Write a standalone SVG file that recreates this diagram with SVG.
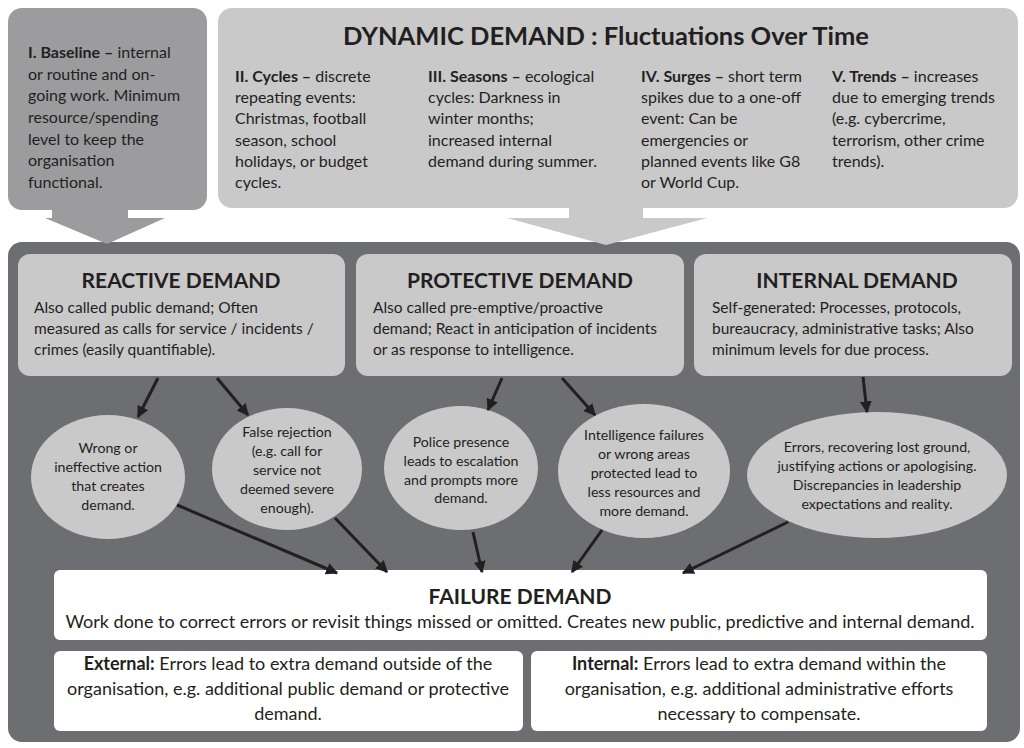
<svg xmlns="http://www.w3.org/2000/svg" width="1024" height="748" viewBox="0 0 1024 748">
<defs>
<style>
text{font-family:Lato,"Noto Sans","Liberation Sans",sans-serif;fill:#231f20;}
.b{font-size:15.5px;}
.tp{font-size:16px;}
.h{font-size:21px;font-weight:700;text-anchor:middle;}
.t{font-size:25.5px;font-weight:700;text-anchor:middle;}
.e{font-size:14.2px;text-anchor:middle;}
.f{font-size:18px;text-anchor:middle;}
.bd{font-weight:700;}
.light{fill:#c9c9ca;}
.mid{fill:#9c9c9e;}
.dark{fill:#6d6e71;}
.white{fill:#ffffff;}
.conn{stroke:#231f20;stroke-width:3;fill:none;marker-end:url(#ah);}
</style>
<marker id="ah" viewBox="0 0 10 10" refX="9" refY="5" markerWidth="4" markerHeight="4" orient="auto" markerUnits="strokeWidth">
<path d="M0,0 L10,5 L0,10 z" fill="#231f20"/>
</marker>
</defs>
<rect width="1024" height="748" fill="#ffffff"/>

<g id="panel">
<rect class="dark" x="8" y="242" width="1012" height="500" rx="14"/>
</g>

<g id="baseline">
<rect class="mid" x="8" y="8" width="199" height="202" rx="14"/>
<polygon class="mid" points="52,208 128,208 128,218 165,218 107,244 45,218 52,218"/>
<text class="tp" x="28" y="58"><tspan class="bd">I. Baseline –</tspan> internal</text>
<text class="tp" x="28" y="80">or routine and on-</text>
<text class="tp" x="28" y="101">going work. Minimum</text>
<text class="tp" x="28" y="123">resource/spending</text>
<text class="tp" x="28" y="145">level to keep the</text>
<text class="tp" x="28" y="166">organisation</text>
<text class="tp" x="28" y="188">functional.</text>
</g>

<g id="dynamic">
<rect class="light" x="218" y="8" width="800" height="200" rx="14"/>
<polygon class="light" points="569,206 643,206 643,218 707,218 606,245 507,218 569,218"/>
<text class="t" x="606" y="45">DYNAMIC DEMAND : Fluctuations Over Time</text>
<g id="cycles">
<text class="tp" x="235" y="82"><tspan class="bd">II. Cycles –</tspan> discrete</text>
<text class="tp" x="235" y="103">repeating events:</text>
<text class="tp" x="235" y="124">Christmas, football</text>
<text class="tp" x="235" y="146">season, school</text>
<text class="tp" x="235" y="167">holidays, or budget</text>
<text class="tp" x="235" y="188">cycles.</text>
</g>
<g id="seasons">
<text class="tp" x="428" y="82"><tspan class="bd">III. Seasons –</tspan> ecological</text>
<text class="tp" x="428" y="103">cycles: Darkness in</text>
<text class="tp" x="428" y="124">winter months;</text>
<text class="tp" x="428" y="146">increased internal</text>
<text class="tp" x="428" y="167">demand during summer.</text>
</g>
<g id="surges">
<text class="tp" x="641" y="82"><tspan class="bd">IV. Surges –</tspan> short term</text>
<text class="tp" x="641" y="103">spikes due to a one-off</text>
<text class="tp" x="641" y="124">event: Can be</text>
<text class="tp" x="641" y="146">emergencies or</text>
<text class="tp" x="641" y="167">planned events like G8</text>
<text class="tp" x="641" y="188">or World Cup.</text>
</g>
<g id="trends">
<text class="tp" x="832" y="82"><tspan class="bd">V. Trends –</tspan> increases</text>
<text class="tp" x="832" y="103">due to emerging trends</text>
<text class="tp" x="832" y="124">(e.g. cybercrime,</text>
<text class="tp" x="832" y="146">terrorism, other crime</text>
<text class="tp" x="832" y="167">trends).</text>
</g>
</g>

<g id="reactive">
<rect class="light" x="18" y="254" width="327" height="122" rx="12"/>
<text class="h" x="181" y="288">REACTIVE DEMAND</text>
<text class="b" x="34" y="313">Also called public demand; Often</text>
<text class="b" x="34" y="334">measured as calls for service / incidents /</text>
<text class="b" x="34" y="355">crimes (easily quantifiable).</text>
</g>

<g id="protective">
<rect class="light" x="356" y="254" width="328" height="122" rx="12"/>
<text class="h" x="520" y="288">PROTECTIVE DEMAND</text>
<text class="b" x="373" y="313">Also called pre-emptive/proactive</text>
<text class="b" x="373" y="334">demand; React in anticipation of incidents</text>
<text class="b" x="373" y="355">or as response to intelligence.</text>
</g>

<g id="internal">
<rect class="light" x="694" y="254" width="318" height="122" rx="12"/>
<text class="h" x="857" y="288">INTERNAL DEMAND</text>
<text class="b" x="712" y="313">Self-generated: Processes, protocols,</text>
<text class="b" x="712" y="334">bureaucracy, administrative tasks; Also</text>
<text class="b" x="712" y="355">minimum levels for due process.</text>
</g>

<g id="e1">
<ellipse class="light" cx="108" cy="477" rx="77" ry="62"/>
<text class="e" x="108" y="453">Wrong or</text>
<text class="e" x="108" y="472">ineffective action</text>
<text class="e" x="108" y="491">that creates</text>
<text class="e" x="108" y="510">demand.</text>
</g>
<g id="e2">
<ellipse class="light" cx="287" cy="469" rx="75" ry="61"/>
<text class="e" x="287" y="437">False rejection</text>
<text class="e" x="287" y="456">(e.g. call for</text>
<text class="e" x="287" y="475">service not</text>
<text class="e" x="287" y="494">deemed severe</text>
<text class="e" x="287" y="513">enough).</text>
</g>
<g id="e3">
<ellipse class="light" cx="461" cy="468" rx="77" ry="62"/>
<text class="e" x="461" y="447">Police presence</text>
<text class="e" x="461" y="466">leads to escalation</text>
<text class="e" x="461" y="485">and prompts more</text>
<text class="e" x="461" y="503">demand.</text>
</g>
<g id="e4">
<ellipse class="light" cx="644" cy="471" rx="86" ry="67"/>
<text class="e" x="644" y="440">Intelligence failures</text>
<text class="e" x="644" y="459">or wrong areas</text>
<text class="e" x="644" y="478">protected lead to</text>
<text class="e" x="644" y="497">less resources and</text>
<text class="e" x="644" y="516">more demand.</text>
</g>
<g id="e5">
<ellipse class="light" cx="877" cy="475" rx="130" ry="63"/>
<text class="e" x="877" y="452">Errors, recovering lost ground,</text>
<text class="e" x="877" y="471">justifying actions or apologising.</text>
<text class="e" x="877" y="490">Discrepancies in leadership</text>
<text class="e" x="877" y="509">expectations and reality.</text>
</g>

<g id="failure">
<rect class="white" x="54" y="570" width="933" height="70" rx="6"/>
<text class="h" x="520" y="604">FAILURE DEMAND</text>
<text class="f" x="520" y="628">Work done to correct errors or revisit things missed or omitted. Creates new public, predictive and internal demand.</text>
</g>

<g id="external">
<rect class="white" x="54" y="651" width="469" height="80" rx="6"/>
<text class="f" x="288" y="670"><tspan class="bd">External:</tspan> Errors lead to extra demand outside of the</text>
<text class="f" x="288" y="695">organisation, e.g. additional public demand or protective</text>
<text class="f" x="288" y="720">demand.</text>
</g>

<g id="internal-failure">
<rect class="white" x="531" y="651" width="456" height="80" rx="6"/>
<text class="f" x="759" y="670"><tspan class="bd">Internal:</tspan> Errors lead to extra demand within the</text>
<text class="f" x="759" y="695">organisation, e.g. additional administrative efforts</text>
<text class="f" x="759" y="720">necessary to compensate.</text>
</g>

<g id="connectors">
<line class="conn" x1="158" y1="378" x2="138" y2="417"/>
<line class="conn" x1="217" y1="378" x2="248" y2="415"/>
<line class="conn" x1="502" y1="378" x2="488" y2="410"/>
<line class="conn" x1="562" y1="378" x2="595" y2="415"/>
<line class="conn" x1="863" y1="377" x2="867" y2="412"/>
<line class="conn" x1="177" y1="505" x2="337" y2="573"/>
<line class="conn" x1="335" y1="518" x2="387" y2="572"/>
<line class="conn" x1="473" y1="532" x2="482" y2="572"/>
<line class="conn" x1="602" y1="530" x2="572" y2="572"/>
<line class="conn" x1="788" y1="522" x2="683" y2="573"/>
</g>
</svg>
